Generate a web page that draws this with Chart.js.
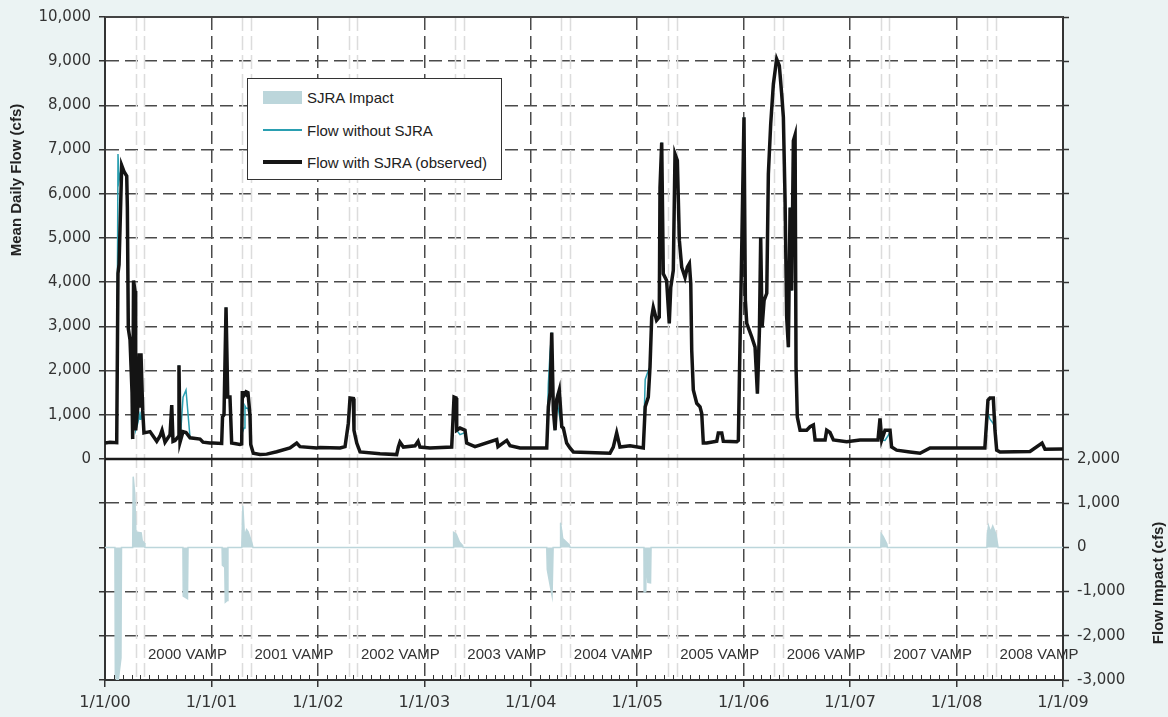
<!DOCTYPE html>
<html>
<head>
<meta charset="utf-8">
<script src="https://cdn.jsdelivr.net/npm/chart.js@4.4.0/dist/chart.umd.min.js"></script>
<style>
  body { margin: 0; background: #ebf3f3; }
  #wrap { position: relative; width: 1168px; height: 717px; }
  #legend { position: absolute; left: 247px; top: 78px; width: 255px; height: 102px; box-sizing: border-box;
            border: 1.5px solid #333; background: #fff; font-family: "Liberation Sans", Arial, sans-serif;
            font-size: 15px; color: #222; }
  .item { position: absolute; left: 15px; height: 20px; display: flex; align-items: center; white-space: nowrap; }
  .sw { width: 39px; margin-right: 5px; }
</style>
</head>
<body>
<div id="wrap">
  <canvas id="myChart" width="1168" height="717"></canvas>
  <div id="legend">
    <div class="item" style="top:8px"><span class="sw" style="height:13px;background:#bcd6db"></span>SJRA Impact</div>
    <div class="item" style="top:41px"><span class="sw" style="height:2px;background:#2a9fb1"></span>Flow without SJRA</div>
    <div class="item" style="top:73px"><span class="sw" style="height:4px;background:#161616"></span>Flow with SJRA (observed)</div>
  </div>
</div>
<script>
// daily flow at the turning points (decimal years)
const flowDates = [
  2000.000, 2000.047, 2000.110, 2000.122, 2000.132, 2000.157, 2000.179, 2000.204, 2000.210, 2000.219,
  2000.235, 2000.254, 2000.260, 2000.268, 2000.282, 2000.288, 2000.307, 2000.322, 2000.329, 2000.338,
  2000.354, 2000.366, 2000.423, 2000.486, 2000.517, 2000.536, 2000.564, 2000.611, 2000.627, 2000.639,
  2000.658, 2000.686, 2000.695, 2000.705, 2000.733, 2000.761, 2000.799, 2000.893, 2000.921, 2000.986,
  2001.015, 2001.096, 2001.104, 2001.118, 2001.137, 2001.153, 2001.174, 2001.190, 2001.268, 2001.284,
  2001.290, 2001.306, 2001.315, 2001.325, 2001.343, 2001.362, 2001.369, 2001.393, 2001.456, 2001.519,
  2001.613, 2001.738, 2001.801, 2001.832, 2001.989,
  2002.020, 2002.208, 2002.255, 2002.286, 2002.302, 2002.333, 2002.339, 2002.365, 2002.396, 2002.584,
  2002.740, 2002.756, 2002.771, 2002.803, 2002.913, 2002.941, 2002.959,
  2003.053, 2003.257, 2003.279, 2003.298, 2003.304, 2003.335, 2003.382, 2003.398, 2003.476, 2003.680,
  2003.692, 2003.774, 2003.805, 2003.899,
  2004.150, 2004.165, 2004.181, 2004.197, 2004.212, 2004.228, 2004.244, 2004.268, 2004.291, 2004.306,
  2004.337, 2004.368, 2004.400, 2004.744, 2004.775, 2004.807, 2004.838, 2004.932,
  2005.057, 2005.075, 2005.104, 2005.120, 2005.136, 2005.151, 2005.182, 2005.207, 2005.214, 2005.230,
  2005.245, 2005.276, 2005.301, 2005.315, 2005.339, 2005.355, 2005.377, 2005.396, 2005.418, 2005.449,
  2005.471, 2005.490, 2005.503, 2005.512, 2005.527, 2005.559, 2005.590, 2005.606, 2005.621, 2005.653,
  2005.747, 2005.762, 2005.794, 2005.809, 2005.935, 2005.950,
  2005.960, 2005.982, 2006.003, 2006.016, 2006.029, 2006.076, 2006.107, 2006.129, 2006.148, 2006.160,
  2006.173, 2006.192, 2006.217, 2006.232, 2006.254, 2006.279, 2006.310, 2006.335, 2006.357, 2006.373,
  2006.389, 2006.404, 2006.420, 2006.436, 2006.451, 2006.467, 2006.483, 2006.492, 2006.504, 2006.530,
  2006.592, 2006.624, 2006.655, 2006.671, 2006.765, 2006.780, 2006.811, 2006.843, 2006.968,
  2007.093, 2007.262, 2007.281, 2007.297, 2007.328, 2007.375, 2007.390, 2007.437, 2007.562, 2007.657,
  2007.751, 2007.939,
  2008.266, 2008.295, 2008.314, 2008.345, 2008.361, 2008.377, 2008.408, 2008.690, 2008.803, 2008.831,
  2009.000
];
const flowWith = [
  360, 380, 370, 4200, 4400, 6640, 6500, 6400, 5700, 2950,
  2700, 1500, 450, 4040, 3800, 650, 1150, 2390, 1200, 2390,
  1100, 590, 620, 400, 520, 650, 380, 550, 1220, 400,
  420, 500, 2120, 380, 620, 600, 480, 450, 380, 360,
  360, 350, 950, 1000, 3430, 1400, 1400, 360, 330, 340,
  1500, 1500, 1480, 1520, 1500, 1000, 330, 130, 100, 110,
  165, 250, 360, 280, 250,
  260, 250, 280, 810, 1380, 1370, 650, 360, 160, 120,
  100, 270, 380, 270, 300, 400, 270,
  250, 270, 1400, 1380, 650, 700, 650, 360, 280, 440,
  280, 420, 300, 250,
  250, 1180, 1500, 2860, 1100, 650, 1350, 1560, 730, 700,
  360, 250, 160, 130, 270, 590, 270, 300,
  250, 1180, 1400, 2080, 3210, 3430, 3140, 3210, 6140, 7160,
  4190, 4040, 3070, 3880, 4270, 6900, 6750, 4940, 4340, 4110,
  4340, 4420, 3970, 2460, 1560, 1260, 1180, 1030, 360, 360,
  400, 590, 590, 400, 390, 420,
  1860, 4790, 7730, 3590, 3070, 2760, 2530, 1480, 2910, 5010,
  2980, 3590, 3750, 6450, 7580, 8480, 9050, 8900, 8260, 7730,
  5850, 3210, 2530, 5690, 3810, 7200, 7330, 2080, 950, 650,
  650, 730, 770, 430, 430, 650, 600, 430, 390,
  430, 430, 920, 430, 650, 650, 270, 200, 160, 130,
  250, 250,
  250, 1330, 1380, 1380, 650, 200, 160, 170, 360, 220,
  225
];
const flowWithout = [
  360, 380, 370, 6900, 6300, 6640, 6500, 6400, 5700, 2950,
  2700, 1500, 450, 2440, 2200, 650, 800, 1000, 900, 1000,
  900, 590, 620, 400, 520, 650, 380, 550, 1220, 400,
  420, 500, 2120, 380, 1400, 1560, 480, 450, 380, 360,
  360, 350, 950, 1000, 3430, 1400, 1400, 360, 330, 340,
  600, 700, 1200, 1150, 1150, 900, 330, 130, 100, 110,
  165, 250, 360, 280, 250,
  260, 250, 280, 810, 1380, 1370, 650, 360, 160, 120,
  100, 270, 380, 270, 300, 400, 270,
  250, 270, 1060, 1080, 650, 550, 600, 360, 280, 440,
  280, 420, 300, 250,
  250, 1700, 2400, 2860, 1100, 650, 1350, 1000, 730, 700,
  360, 250, 160, 130, 270, 590, 270, 300,
  250, 1800, 2000, 2080, 3210, 3430, 3140, 3210, 6140, 7160,
  4190, 4040, 3070, 3880, 4270, 6900, 6750, 4940, 4340, 4110,
  4340, 4420, 3970, 2460, 1560, 1260, 1180, 1030, 360, 360,
  400, 590, 590, 400, 390, 420,
  1860, 4790, 7730, 3590, 3070, 2760, 2530, 1480, 2910, 5010,
  2980, 3590, 3750, 6450, 7580, 8480, 9050, 8900, 8260, 7730,
  5850, 3210, 2530, 5690, 3810, 7200, 7330, 2080, 950, 650,
  650, 730, 770, 430, 430, 650, 600, 430, 390,
  430, 430, 700, 430, 420, 600, 270, 200, 160, 130,
  250, 250,
  250, 1030, 900, 800, 650, 200, 160, 170, 360, 220,
  225
];

// SJRA impact (right axis)
const impactDates = [
  2000.000, 2000.093, 2000.097, 2000.120, 2000.150, 2000.155, 2000.260, 2000.265, 2000.280, 2000.290,
  2000.340, 2000.350, 2000.370, 2000.375, 2000.732, 2000.735, 2000.775, 2000.780,
  2001.100, 2001.103, 2001.125, 2001.130, 2001.150, 2001.155, 2001.285, 2001.295, 2001.310, 2001.330,
  2001.345, 2001.380, 2001.390,
  2003.270, 2003.275, 2003.300, 2003.330, 2003.360, 2003.365,
  2004.150, 2004.155, 2004.170, 2004.200, 2004.210, 2004.275, 2004.280, 2004.300, 2004.360, 2004.370,
  2005.063, 2005.065, 2005.080, 2005.085, 2005.100, 2005.125, 2005.130,
  2007.288, 2007.292, 2007.310, 2007.345, 2007.350,
  2008.285, 2008.290, 2008.300, 2008.320, 2008.340, 2008.370, 2008.390, 2009.000
];
const impactValues = [
  0, 0, -2900, -3100, -2500, 0, 0, 1600, 1200, 350,
  330, 150, 100, 0, 0, -1100, -1160, 0,
  0, -400, -450, -1240, -1200, 0, 0, 940, 250, 400,
  350, 100, 0,
  0, 340, 300, 120, 40, 0,
  0, -500, -700, -1090, 0, 0, 560, 200, 60, 0,
  0, -1010, -1000, -300, -790, -800, 0,
  0, 310, 250, 80, 0,
  0, 300, 490, 350, 480, 300, 0, 0
];

// VAMP windows (mid April - mid May) and their labels
const vampStart = [2000.288, 2001.288, 2002.288, 2003.288, 2004.288, 2005.288, 2006.288, 2007.288, 2008.288];
const vampEnd   = [2000.370, 2001.370, 2002.370, 2003.370, 2004.370, 2005.370, 2006.370, 2007.370, 2008.370];
const vampLabels = ['2000 VAMP', '2001 VAMP', '2002 VAMP', '2003 VAMP', '2004 VAMP', '2005 VAMP', '2006 VAMP', '2007 VAMP', '2008 VAMP'];
const vampLabelAt = [2000.775, 2001.775, 2002.775, 2003.775, 2004.775, 2005.775, 2006.775, 2007.775, 2008.775];
const vampLabelLevel = -2420;

const numFont = { family: '"DejaVu Sans", sans-serif', size: 15 };
const gridCol = '#4a4a4a';

const extras = {
  id: 'extras',
  beforeDraw(chart) {
    const { ctx, chartArea: a } = chart;
    ctx.save();
    ctx.fillStyle = '#ffffff';
    ctx.fillRect(a.left, a.top, a.right - a.left, a.bottom - a.top);
    ctx.restore();
  },
  beforeDatasetsDraw(chart) {
    const { ctx, chartArea: a, scales } = chart;
    ctx.save();
    ctx.strokeStyle = '#dcdcdc';
    ctx.lineWidth = 1.5;
    ctx.setLineDash([14, 5]);
    vampStart.concat(vampEnd).forEach(d => {
      const px = Math.round(scales.x.getPixelForValue(d)) + 0.5;
      ctx.beginPath();
      ctx.moveTo(px, a.top);
      ctx.lineTo(px, a.bottom);
      ctx.stroke();
    });
    ctx.restore();
  },
  afterDatasetsDraw(chart) {
    const { ctx, chartArea: a, scales } = chart;
    ctx.save();
    // monthly minor ticks along the bottom
    ctx.strokeStyle = '#333';
    ctx.lineWidth = 1;
    for (let y = 2000; y < 2009; y++) {
      for (let m = 1; m < 12; m++) {
        const px = Math.round(scales.x.getPixelForValue(y + m / 12)) + 0.5;
        ctx.beginPath();
        ctx.moveTo(px, a.bottom);
        ctx.lineTo(px, a.bottom - 5);
        ctx.stroke();
      }
    }
    // zero line of the flow panel
    const y0 = scales.y.getPixelForValue(0);
    ctx.strokeStyle = '#1a1a1a';
    ctx.lineWidth = 2.5;
    ctx.beginPath();
    ctx.moveTo(a.left, y0);
    ctx.lineTo(a.right, y0);
    ctx.stroke();
    // top frame
    ctx.strokeStyle = '#444';
    ctx.lineWidth = 2;
    ctx.beginPath();
    ctx.moveTo(a.left, a.top);
    ctx.lineTo(a.right, a.top);
    ctx.stroke();
    // VAMP labels
    ctx.fillStyle = '#333';
    ctx.font = '15px "Liberation Sans", Arial, sans-serif';
    ctx.textAlign = 'center';
    ctx.textBaseline = 'middle';
    vampLabels.forEach((t, i) => {
      ctx.fillText(t, scales.x.getPixelForValue(vampLabelAt[i]), scales.y2.getPixelForValue(vampLabelLevel));
    });
    ctx.restore();
  },
  afterDraw(chart) {
    const { ctx } = chart;
    ctx.save();
    ctx.fillStyle = '#222';
    ctx.font = 'bold 15px "Liberation Sans", Arial, sans-serif';
    ctx.textAlign = 'center';
    ctx.textBaseline = 'middle';
    ctx.translate(17, 180);
    ctx.rotate(-Math.PI / 2);
    ctx.fillText('Mean Daily Flow (cfs)', 0, 0);
    ctx.restore();
    ctx.save();
    ctx.fillStyle = '#222';
    ctx.font = 'bold 15px "Liberation Sans", Arial, sans-serif';
    ctx.textAlign = 'center';
    ctx.textBaseline = 'middle';
    ctx.translate(1159, 583);
    ctx.rotate(-Math.PI / 2);
    ctx.fillText('Flow Impact (cfs)', 0, 0);
    ctx.restore();
  }
};

const ctx = document.getElementById('myChart').getContext('2d');
const myChart = new Chart(ctx, {
  type: 'line',
  data: {
    datasets: [
      {
        label: 'Flow with SJRA (observed)',
        data: flowDates.map((d, i) => ({ x: d, y: flowWith[i] })),
        yAxisID: 'y',
        borderColor: '#141414',
        borderWidth: 3.5,
        pointRadius: 0,
        tension: 0,
        fill: false,
        order: 1
      },
      {
        label: 'Flow without SJRA',
        data: flowDates.map((d, i) => ({ x: d, y: flowWithout[i] })),
        yAxisID: 'y',
        borderColor: '#2a9fb1',
        borderWidth: 1.5,
        pointRadius: 0,
        tension: 0,
        fill: false,
        order: 2
      },
      {
        label: 'SJRA Impact',
        data: impactDates.map((d, i) => ({ x: d, y: impactValues[i] })),
        yAxisID: 'y2',
        borderColor: '#bcd6db',
        backgroundColor: '#bcd6db',
        borderWidth: 1.5,
        pointRadius: 0,
        tension: 0,
        fill: 'origin',
        order: 3
      }
    ]
  },
  options: {
    responsive: false,
    animation: false,
    devicePixelRatio: 1,
    layout: { padding: { top: 16, left: 0, right: 0, bottom: 0 } },
    plugins: { legend: { display: false }, tooltip: { enabled: false } },
    scales: {
      x: {
        type: 'linear',
        position: 'bottom',
        min: 2000,
        max: 2009,
        afterFit: s => { s.height = 37; },
        ticks: {
          stepSize: 1,
          autoSkip: false,
          maxRotation: 0,
          padding: 6,
          color: '#333',
          font: { family: '"DejaVu Sans", sans-serif', size: 16 },
          callback: v => '1/1/' + String(Math.round(v) % 100).padStart(2, '0')
        },
        grid: {
          color: c => (c.tick && c.tick.value > 2000 && c.tick.value < 2009) ? gridCol : 'rgba(0,0,0,0)',
          lineWidth: 1.5,
          tickColor: '#333',
          tickLength: 7,
          tickWidth: 1.5,
          tickBorderDash: []
        },
        border: { display: true, color: '#333', width: 2, dash: [13, 6] }
      },
      y: {
        position: 'left',
        min: -5000,
        max: 10000,
        afterFit: s => { s.width = 105; },
        ticks: {
          stepSize: 1000,
          autoSkip: false,
          padding: 8,
          color: '#333',
          font: numFont,
          callback: v => v >= 0 ? v.toLocaleString('en-US') : ''
        },
        grid: {
          color: c => {
            const v = c.tick ? c.tick.value : 0;
            return (v === 10000 || v === 0 || v === -2000 || v === -5000) ? 'rgba(0,0,0,0)' : gridCol;
          },
          lineWidth: 1.5,
          tickColor: '#333',
          tickLength: 6,
          tickWidth: 1.5,
          tickBorderDash: []
        },
        border: { display: true, color: '#333', width: 2, dash: [13, 6] }
      },
      y2: {
        position: 'right',
        min: -3000,
        max: 12000,
        afterFit: s => { s.width = 105; },
        ticks: {
          stepSize: 1000,
          autoSkip: false,
          padding: 8,
          color: '#333',
          font: numFont,
          callback: v => v <= 2000 ? v.toLocaleString('en-US') : ''
        },
        grid: {
          drawOnChartArea: false,
          tickColor: '#333',
          tickLength: 6,
          tickWidth: 1.5,
          tickBorderDash: []
        },
        border: { display: true, color: '#333', width: 2 }
      }
    }
  },
  plugins: [extras]
});
</script>
</body>
</html>
